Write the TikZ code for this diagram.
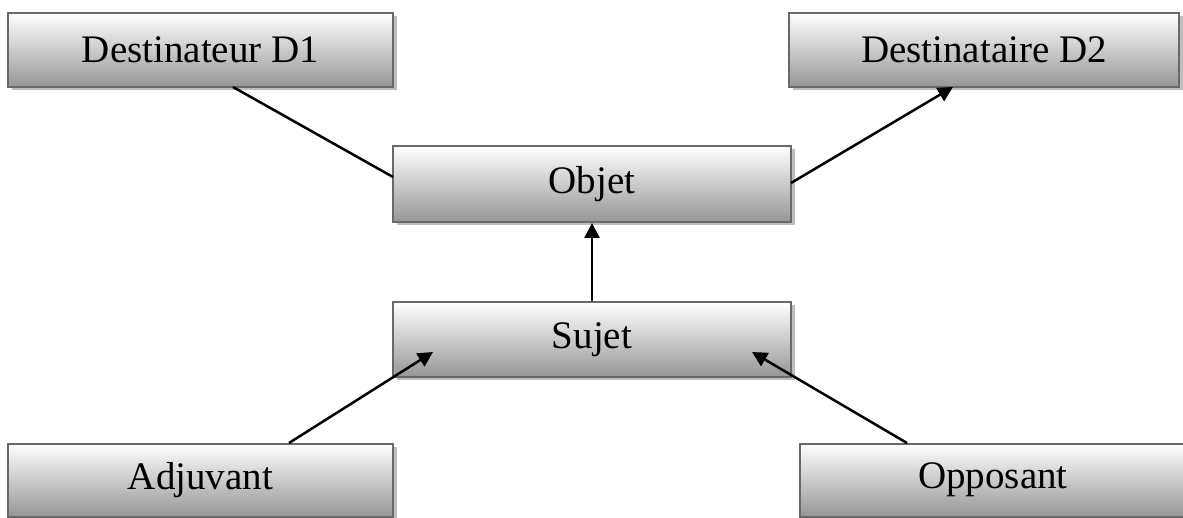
\documentclass[tikz,border=0pt]{standalone}
\usepackage{fontspec}
\setmainfont{Liberation Serif}
\usetikzlibrary{shadows,arrows.meta,calc}
\definecolor{boxborder}{RGB}{105,105,105}
\definecolor{boxbottom}{RGB}{150,150,150}
\definecolor{shadowgray}{RGB}{190,190,190}
\begin{document}
\begin{tikzpicture}[x=1pt,y=-1pt,
  box/.style={draw=boxborder, line width=2pt, top color=white, bottom color=boxbottom,
    drop shadow={shadow xshift=3.5pt, shadow yshift=-3.5pt, fill=shadowgray, opacity=1},
    inner sep=0pt, font=\fontsize{39pt}{47pt}\selectfont},
  link/.style={line width=2.5pt, black},
  arr/.style={link, -{Triangle[length=15pt,width=15pt]}}]
\useasboundingbox (0,0) rectangle (1183,518);
\node[box, minimum width=385pt, minimum height=74pt] (d1) at (200.5,50) {Destinateur D1};
\node[box, minimum width=390pt, minimum height=74pt] (d2) at (984,50) {Destinataire D2};
\node[box, minimum width=398pt, minimum height=76pt] (obj) at (592,184) {Objet};
\node[box, minimum width=398pt, minimum height=75pt] (suj) at (592,339.5) {Sujet};
\node[box, minimum width=385pt, minimum height=73pt] (adj) at (200.5,480) {Adjuvant};
\node[box, minimum width=386pt, minimum height=73pt] (opp) at (993,480) {Opposant};
\coordinate (d1out) at (233,87);
\coordinate (objin) at (393,177);
\coordinate (objout) at (791,183);
\coordinate (d2in) at (953,87);
\coordinate (adjout) at (289,443);
\coordinate (sujl) at (433,352);
\coordinate (oppout) at (907,443);
\coordinate (sujr) at (752,352);
\draw[link] (d1out) -- (objin);
\draw[arr] (objout) -- (d2in);
\draw[arr] (suj.north) -- (obj.south);
\draw[arr] (adjout) -- (sujl);
\draw[arr] (oppout) -- (sujr);
\end{tikzpicture}
\end{document}
